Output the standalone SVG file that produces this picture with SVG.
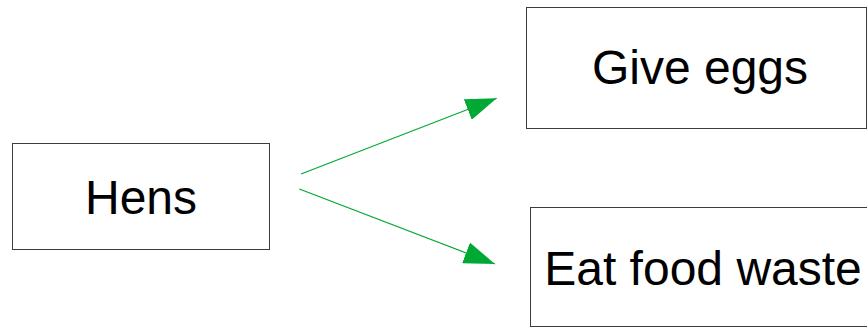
<svg xmlns="http://www.w3.org/2000/svg" width="867" height="328" viewBox="0 0 867 328">
<style>
.box{fill:#fff;stroke:#3c3c3c;stroke-width:1}
.lbl{font-family:"Liberation Sans",Arial,sans-serif;font-size:48px;fill:#000;text-anchor:middle}
.conn{stroke:#00a933;stroke-width:1.2;fill:none}
</style>
<defs>
<marker id="ah" viewBox="0 0 31 22" refX="31" refY="11" markerWidth="31" markerHeight="22" markerUnits="userSpaceOnUse" orient="auto">
<path d="M0,0 L31,11 L0,22 z" fill="#00a933"/>
</marker>
</defs>
<rect width="867" height="328" fill="#fff"/>
<g id="hens">
<rect class="box" x="12.5" y="143.5" width="257" height="106"/>
<text class="lbl" x="141" y="214">Hens</text>
</g>
<g id="give-eggs">
<rect class="box" x="526.5" y="7.5" width="340" height="121"/>
<text class="lbl" x="700" y="84">Give eggs</text>
</g>
<g id="eat-food-waste">
<rect class="box" x="530.5" y="207.5" width="345" height="119"/>
<text class="lbl" x="703" y="285">Eat food waste</text>
</g>
<g id="connectors">
<path class="conn" d="M301,174 L496.7,98.3" marker-end="url(#ah)"/>
<path class="conn" d="M299.3,189 L495,264" marker-end="url(#ah)"/>
</g>
</svg>
